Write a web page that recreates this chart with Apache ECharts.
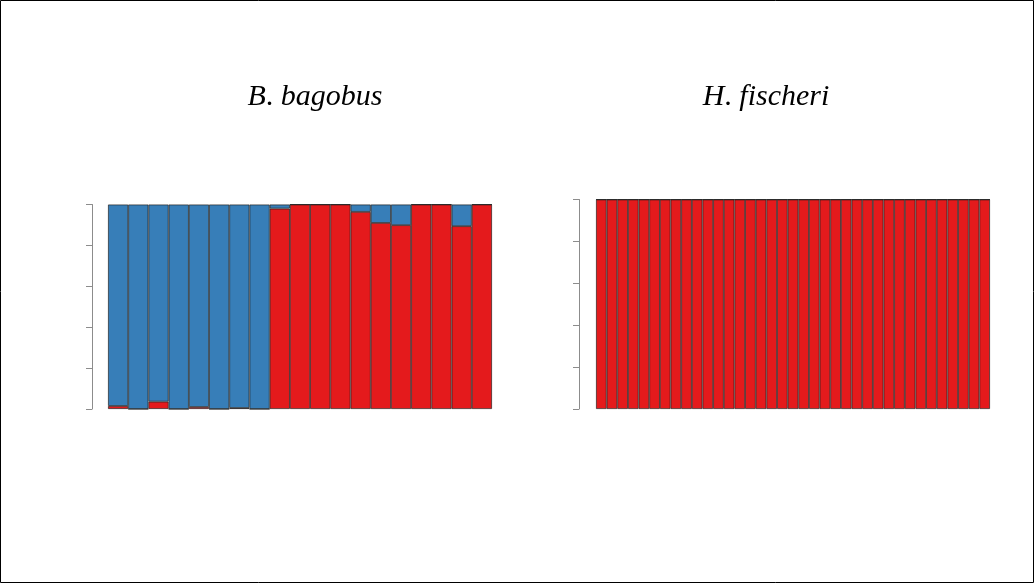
<!DOCTYPE html>
<html>
<head>
<meta charset="utf-8">
<script src="https://cdn.jsdelivr.net/npm/echarts@6/dist/echarts.min.js"></script>
<style>
html,body{margin:0;padding:0;background:#fff;}
#chart{width:1034px;height:583px;}
</style>
</head>
<body>
<div id="chart"></div>
<script>
// Data
const titleGenus = ['B', 'H'];
const titleSpecies = ['bagobus', 'fischeri'];
const bagobusIds = ['1','2','3','4','5','6','7','8','9','10','11','12','13','14','15','16','17','18','19'];
const bagobusRed  = [0.015,0,0.036,0,0.01,0,0.005,0,0.98,1,1,1,0.964,0.91,0.899,1,1,0.894,1];
const bagobusBlue = [0.985,1,0.964,1,0.99,1,0.995,1,0.02,0,0,0,0.036,0.09,0.101,0,0,0.106,0];
const fischeriIds = ['1','2','3','4','5','6','7','8','9','10','11','12','13','14','15','16','17','18','19','20','21','22','23','24','25','26','27','28','29','30','31','32','33','34','35','36','37'];
const fischeriRed  = [1,1,1,1,1,1,1,1,1,1,1,1,1,1,1,1,1,1,1,1,1,1,1,1,1,1,1,1,1,1,1,1,1,1,1,1,1];
const fischeriBlue = [0,0,0,0,0,0,0,0,0,0,0,0,0,0,0,0,0,0,0,0,0,0,0,0,0,0,0,0,0,0,0,0,0,0,0,0,0];
const yTicks = [0, 0.2, 0.4, 0.6, 0.8, 1.0];

const RED = '#E41A1C', BLUE = '#377EB8';
const chart = echarts.init(document.getElementById('chart'));

function yAx(idx, offset){
  return {
    type:'value', gridIndex: idx, min: yTicks[0], max: yTicks[yTicks.length-1], interval: 0.2,
    offset: offset,
    axisLine:{show:true, lineStyle:{color:'#8c8c8c', width:1}},
    axisTick:{show:true, length:6, lineStyle:{color:'#8c8c8c', width:1}},
    axisLabel:{show:false}, splitLine:{show:false}
  };
}
function xAx(idx, cats){
  return {type:'category', gridIndex: idx, data: cats, axisLine:{show:false}, axisTick:{show:false}, axisLabel:{show:false}};
}
const itemBorder = {borderColor:'rgba(30,30,30,0.85)', borderWidth:0.8};
function bars(idx, data, color){
  return {type:'bar', xAxisIndex: idx, yAxisIndex: idx, stack:'s'+idx, data: data,
    barCategoryGap:0, barGap:0, silent:true,
    itemStyle: Object.assign({color: color}, itemBorder)};
}
const titleRich = {
  i:{fontFamily:'Liberation Serif', fontStyle:'italic', fontWeight:'normal', fontSize:30, color:'#000'},
  n:{fontFamily:'Liberation Serif', fontStyle:'normal', fontWeight:'normal', fontSize:30, color:'#000'}
};
function mkTitle(k, cx){
  return {text: '{i|' + titleGenus[k] + '}{n|. }{i|' + titleSpecies[k] + '}', left: cx, top: 82, textAlign:'center',
    padding:0, textStyle:{rich: titleRich, fontSize:30, fontWeight:'normal'}};
}

chart.setOption({
  animation:false,
  backgroundColor:'#fff',
  title:[mkTitle(0, 315), mkTitle(1, 766)],
  grid:[
    {left:108, width:384, top:204.5, height:204.5},
    {left:596, width:394, top:199.5, height:209.5}
  ],
  xAxis:[xAx(0, bagobusIds), xAx(1, fischeriIds)],
  yAxis:[yAx(0, 16), yAx(1, 17)],
  series:[
    bars(0, bagobusRed, RED), bars(0, bagobusBlue, BLUE),
    bars(1, fischeriRed, RED), bars(1, fischeriBlue, BLUE)
  ],
  graphic:[{type:'rect', shape:{x:0.5,y:0.5,width:1033,height:582}, style:{fill:null, stroke:'#000', lineWidth:1}, silent:true}]
});
</script>
</body>
</html>
